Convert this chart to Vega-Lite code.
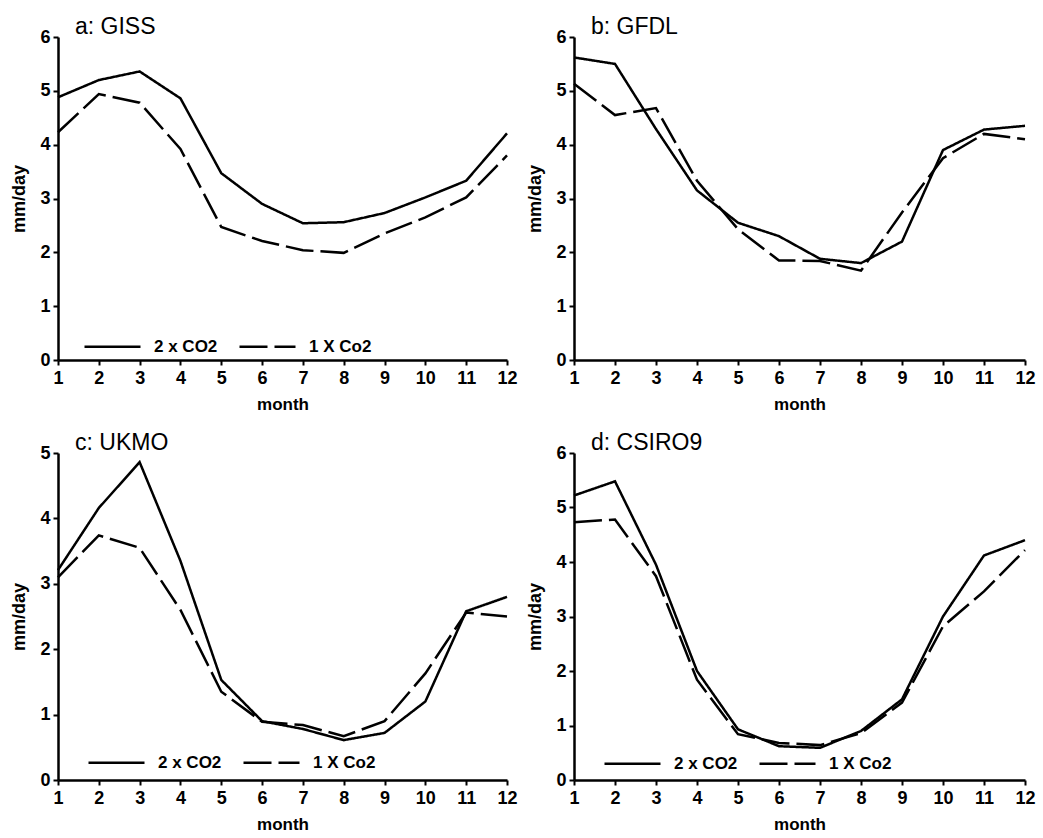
{
  "$schema": "https://vega.github.io/schema/vega-lite/v6.json",
  "background": "white",
  "padding": {"left": 10, "top": 16, "right": 5, "bottom": 5},
  "datasets": {
    "rain": [
      {"panel": "a", "month": 1, "scenario": "2 x CO2", "value": 4.88},
      {"panel": "a", "month": 2, "scenario": "2 x CO2", "value": 5.20},
      {"panel": "a", "month": 3, "scenario": "2 x CO2", "value": 5.36},
      {"panel": "a", "month": 4, "scenario": "2 x CO2", "value": 4.86},
      {"panel": "a", "month": 5, "scenario": "2 x CO2", "value": 3.47},
      {"panel": "a", "month": 6, "scenario": "2 x CO2", "value": 2.90},
      {"panel": "a", "month": 7, "scenario": "2 x CO2", "value": 2.54},
      {"panel": "a", "month": 8, "scenario": "2 x CO2", "value": 2.56},
      {"panel": "a", "month": 9, "scenario": "2 x CO2", "value": 2.73},
      {"panel": "a", "month": 10, "scenario": "2 x CO2", "value": 3.02},
      {"panel": "a", "month": 11, "scenario": "2 x CO2", "value": 3.33},
      {"panel": "a", "month": 12, "scenario": "2 x CO2", "value": 4.21},
      {"panel": "a", "month": 1, "scenario": "1 X Co2", "value": 4.23},
      {"panel": "a", "month": 2, "scenario": "1 X Co2", "value": 4.94},
      {"panel": "a", "month": 3, "scenario": "1 X Co2", "value": 4.78},
      {"panel": "a", "month": 4, "scenario": "1 X Co2", "value": 3.92},
      {"panel": "a", "month": 5, "scenario": "1 X Co2", "value": 2.47},
      {"panel": "a", "month": 6, "scenario": "1 X Co2", "value": 2.21},
      {"panel": "a", "month": 7, "scenario": "1 X Co2", "value": 2.04},
      {"panel": "a", "month": 8, "scenario": "1 X Co2", "value": 1.99},
      {"panel": "a", "month": 9, "scenario": "1 X Co2", "value": 2.35},
      {"panel": "a", "month": 10, "scenario": "1 X Co2", "value": 2.65},
      {"panel": "a", "month": 11, "scenario": "1 X Co2", "value": 3.02},
      {"panel": "a", "month": 12, "scenario": "1 X Co2", "value": 3.80},
      {"panel": "b", "month": 1, "scenario": "2 x CO2", "value": 5.62},
      {"panel": "b", "month": 2, "scenario": "2 x CO2", "value": 5.50},
      {"panel": "b", "month": 3, "scenario": "2 x CO2", "value": 4.29},
      {"panel": "b", "month": 4, "scenario": "2 x CO2", "value": 3.15},
      {"panel": "b", "month": 5, "scenario": "2 x CO2", "value": 2.55},
      {"panel": "b", "month": 6, "scenario": "2 x CO2", "value": 2.30},
      {"panel": "b", "month": 7, "scenario": "2 x CO2", "value": 1.88},
      {"panel": "b", "month": 8, "scenario": "2 x CO2", "value": 1.80},
      {"panel": "b", "month": 9, "scenario": "2 x CO2", "value": 2.20},
      {"panel": "b", "month": 10, "scenario": "2 x CO2", "value": 3.90},
      {"panel": "b", "month": 11, "scenario": "2 x CO2", "value": 4.28},
      {"panel": "b", "month": 12, "scenario": "2 x CO2", "value": 4.35},
      {"panel": "b", "month": 1, "scenario": "1 X Co2", "value": 5.13},
      {"panel": "b", "month": 2, "scenario": "1 X Co2", "value": 4.55},
      {"panel": "b", "month": 3, "scenario": "1 X Co2", "value": 4.68},
      {"panel": "b", "month": 4, "scenario": "1 X Co2", "value": 3.33},
      {"panel": "b", "month": 5, "scenario": "1 X Co2", "value": 2.43},
      {"panel": "b", "month": 6, "scenario": "1 X Co2", "value": 1.85},
      {"panel": "b", "month": 7, "scenario": "1 X Co2", "value": 1.84},
      {"panel": "b", "month": 8, "scenario": "1 X Co2", "value": 1.66},
      {"panel": "b", "month": 9, "scenario": "1 X Co2", "value": 2.74},
      {"panel": "b", "month": 10, "scenario": "1 X Co2", "value": 3.75},
      {"panel": "b", "month": 11, "scenario": "1 X Co2", "value": 4.20},
      {"panel": "b", "month": 12, "scenario": "1 X Co2", "value": 4.10},
      {"panel": "c", "month": 1, "scenario": "2 x CO2", "value": 3.21},
      {"panel": "c", "month": 2, "scenario": "2 x CO2", "value": 4.16},
      {"panel": "c", "month": 3, "scenario": "2 x CO2", "value": 4.86},
      {"panel": "c", "month": 4, "scenario": "2 x CO2", "value": 3.35},
      {"panel": "c", "month": 5, "scenario": "2 x CO2", "value": 1.53},
      {"panel": "c", "month": 6, "scenario": "2 x CO2", "value": 0.90},
      {"panel": "c", "month": 7, "scenario": "2 x CO2", "value": 0.78},
      {"panel": "c", "month": 8, "scenario": "2 x CO2", "value": 0.61},
      {"panel": "c", "month": 9, "scenario": "2 x CO2", "value": 0.72},
      {"panel": "c", "month": 10, "scenario": "2 x CO2", "value": 1.20},
      {"panel": "c", "month": 11, "scenario": "2 x CO2", "value": 2.58},
      {"panel": "c", "month": 12, "scenario": "2 x CO2", "value": 2.80},
      {"panel": "c", "month": 1, "scenario": "1 X Co2", "value": 3.10},
      {"panel": "c", "month": 2, "scenario": "1 X Co2", "value": 3.74},
      {"panel": "c", "month": 3, "scenario": "1 X Co2", "value": 3.55},
      {"panel": "c", "month": 4, "scenario": "1 X Co2", "value": 2.60},
      {"panel": "c", "month": 5, "scenario": "1 X Co2", "value": 1.35},
      {"panel": "c", "month": 6, "scenario": "1 X Co2", "value": 0.89},
      {"panel": "c", "month": 7, "scenario": "1 X Co2", "value": 0.84},
      {"panel": "c", "month": 8, "scenario": "1 X Co2", "value": 0.67},
      {"panel": "c", "month": 9, "scenario": "1 X Co2", "value": 0.90},
      {"panel": "c", "month": 10, "scenario": "1 X Co2", "value": 1.63},
      {"panel": "c", "month": 11, "scenario": "1 X Co2", "value": 2.56},
      {"panel": "c", "month": 12, "scenario": "1 X Co2", "value": 2.50},
      {"panel": "d", "month": 1, "scenario": "2 x CO2", "value": 5.22},
      {"panel": "d", "month": 2, "scenario": "2 x CO2", "value": 5.48},
      {"panel": "d", "month": 3, "scenario": "2 x CO2", "value": 3.95},
      {"panel": "d", "month": 4, "scenario": "2 x CO2", "value": 2.00},
      {"panel": "d", "month": 5, "scenario": "2 x CO2", "value": 0.93},
      {"panel": "d", "month": 6, "scenario": "2 x CO2", "value": 0.62},
      {"panel": "d", "month": 7, "scenario": "2 x CO2", "value": 0.59},
      {"panel": "d", "month": 8, "scenario": "2 x CO2", "value": 0.90},
      {"panel": "d", "month": 9, "scenario": "2 x CO2", "value": 1.48},
      {"panel": "d", "month": 10, "scenario": "2 x CO2", "value": 3.00},
      {"panel": "d", "month": 11, "scenario": "2 x CO2", "value": 4.12},
      {"panel": "d", "month": 12, "scenario": "2 x CO2", "value": 4.40},
      {"panel": "d", "month": 1, "scenario": "1 X Co2", "value": 4.73},
      {"panel": "d", "month": 2, "scenario": "1 X Co2", "value": 4.78},
      {"panel": "d", "month": 3, "scenario": "1 X Co2", "value": 3.74},
      {"panel": "d", "month": 4, "scenario": "1 X Co2", "value": 1.84},
      {"panel": "d", "month": 5, "scenario": "1 X Co2", "value": 0.84},
      {"panel": "d", "month": 6, "scenario": "1 X Co2", "value": 0.68},
      {"panel": "d", "month": 7, "scenario": "1 X Co2", "value": 0.64},
      {"panel": "d", "month": 8, "scenario": "1 X Co2", "value": 0.86},
      {"panel": "d", "month": 9, "scenario": "1 X Co2", "value": 1.42},
      {"panel": "d", "month": 10, "scenario": "1 X Co2", "value": 2.82},
      {"panel": "d", "month": 11, "scenario": "1 X Co2", "value": 3.46},
      {"panel": "d", "month": 12, "scenario": "1 X Co2", "value": 4.22}
    ]
  },
  "vconcat": [
    {
      "hconcat": [
        {
          "title": "a: GISS",
          "width": 449, "height": 323,
          "data": {"name": "rain"},
          "transform": [{"filter": "datum.panel === 'a'"}],
          "mark": {"type": "line", "color": "black", "strokeWidth": 2.5},
          "encoding": {
            "x": {"field": "month", "type": "quantitative", "scale": {"domain": [1, 12]}, "axis": {"values": [1,2,3,4,5,6,7,8,9,10,11,12], "format": "d", "title": "month"}},
            "y": {"field": "value", "type": "quantitative", "scale": {"domain": [0, 6]}, "axis": {"values": [0,1,2,3,4,5,6], "format": "d", "title": "mm/day"}},
            "strokeDash": {"field": "scenario", "type": "nominal", "scale": {"domain": ["2 x CO2", "1 X Co2"], "range": [[1, 0], [28, 7]]}, "legend": {"legendX": 25, "legendY": 280}}
          }
        },
        {
          "title": "b: GFDL",
          "width": 451, "height": 323,
          "data": {"name": "rain"},
          "transform": [{"filter": "datum.panel === 'b'"}],
          "mark": {"type": "line", "color": "black", "strokeWidth": 2.5},
          "encoding": {
            "x": {"field": "month", "type": "quantitative", "scale": {"domain": [1, 12]}, "axis": {"values": [1,2,3,4,5,6,7,8,9,10,11,12], "format": "d", "title": "month"}},
            "y": {"field": "value", "type": "quantitative", "scale": {"domain": [0, 6]}, "axis": {"values": [0,1,2,3,4,5,6], "format": "d", "title": "mm/day"}},
            "strokeDash": {"field": "scenario", "type": "nominal", "scale": {"domain": ["2 x CO2", "1 X Co2"], "range": [[1, 0], [28, 7]]}, "legend": {"legendX": 27, "legendY": 278}}
          }
        }
      ]
    },
    {
      "hconcat": [
        {
          "title": "c: UKMO",
          "width": 449, "height": 327,
          "data": {"name": "rain"},
          "transform": [{"filter": "datum.panel === 'c'"}],
          "mark": {"type": "line", "color": "black", "strokeWidth": 2.5},
          "encoding": {
            "x": {"field": "month", "type": "quantitative", "scale": {"domain": [1, 12]}, "axis": {"values": [1,2,3,4,5,6,7,8,9,10,11,12], "format": "d", "title": "month"}},
            "y": {"field": "value", "type": "quantitative", "scale": {"domain": [0, 5]}, "axis": {"values": [0,1,2,3,4,5], "format": "d", "title": "mm/day"}},
            "strokeDash": {"field": "scenario", "type": "nominal", "scale": {"domain": ["2 x CO2", "1 X Co2"], "range": [[1, 0], [28, 7]]}, "legend": {"legendX": 29, "legendY": 280}}
          }
        },
        {
          "title": "d: CSIRO9",
          "width": 451, "height": 327,
          "data": {"name": "rain"},
          "transform": [{"filter": "datum.panel === 'd'"}],
          "mark": {"type": "line", "color": "black", "strokeWidth": 2.5},
          "encoding": {
            "x": {"field": "month", "type": "quantitative", "scale": {"domain": [1, 12]}, "axis": {"values": [1,2,3,4,5,6,7,8,9,10,11,12], "format": "d", "title": "month"}},
            "y": {"field": "value", "type": "quantitative", "scale": {"domain": [0, 6]}, "axis": {"values": [0,1,2,3,4,5,6], "format": "d", "title": "mm/day"}},
            "strokeDash": {"field": "scenario", "type": "nominal", "scale": {"domain": ["2 x CO2", "1 X Co2"], "range": [[1, 0], [28, 7]]}, "legend": {"legendX": 29, "legendY": 281}}
          }
        }
      ],
      "resolve": {"scale": {"strokeDash": "independent"}, "legend": {"strokeDash": "independent"}}
    }
  ],
  "resolve": {"scale": {"strokeDash": "independent"}, "legend": {"strokeDash": "independent"}},
  "spacing": 20,
  "config": {
    "concat": {"spacing": 8},
    "view": {"stroke": null},
    "font": "Liberation Sans",
    "title": {"anchor": "start", "frame": "group", "fontSize": 23, "fontWeight": "normal", "color": "black", "dx": 17, "offset": -11, "font": "Liberation Sans"},
    "axis": {
      "grid": false,
      "domainColor": "black", "domainWidth": 2.5,
      "tickColor": "black", "tickWidth": 2, "tickSize": 5,
      "labelFont": "Liberation Sans", "labelFontWeight": "bold", "labelFontSize": 18, "labelColor": "black", "labelFlush": false,
      "titleFont": "Liberation Sans", "titleFontWeight": "bold", "titleFontSize": 17, "titleColor": "black"
    },
    "axisX": {"labelPadding": 4, "titlePadding": 9},
    "axisY": {"labelPadding": 3, "titlePadding": 11, "titleFontSize": 18},
    "legend": {
      "orient": "none", "direction": "horizontal", "title": null,
      "symbolType": "stroke", "symbolStrokeColor": "black", "symbolStrokeWidth": 2.5, "symbolSize": 3136,
      "labelFont": "Liberation Sans", "labelFontSize": 17, "labelFontWeight": "bold", "labelColor": "black",
      "columnPadding": 16, "labelOffset": 12
    }
  }
}
